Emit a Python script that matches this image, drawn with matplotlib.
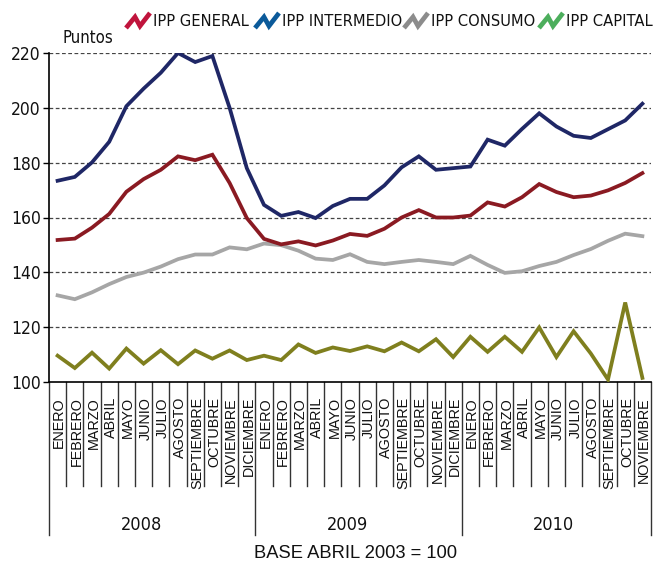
import matplotlib
matplotlib.use("Agg")
import matplotlib.pyplot as plt
from matplotlib.lines import Line2D
import matplotlib.transforms as mtransforms

# datos (ene 2008 - nov 2010)
meses = ["ENERO", "FEBRERO", "MARZO", "ABRIL", "MAYO", "JUNIO", "JULIO", "AGOSTO",
         "SEPTIEMBRE", "OCTUBRE", "NOVIEMBRE", "DICIEMBRE"]
anios = ["2008", "2009", "2010"]
n_meses = 35

ipp_general = [151.8, 152.3, 156.3, 161.3, 169.4, 174.0, 177.4, 182.3, 180.9, 182.9, 172.6, 159.8,
               152.2, 150.2, 151.3, 149.8, 151.6, 154.0, 153.3, 155.9, 160.0, 162.7, 160.0, 160.0,
               160.7, 165.5, 164.0, 167.4, 172.2, 169.3, 167.4, 168.0, 169.9, 172.6, 176.2]
ipp_intermedio = [173.4, 174.8, 180.1, 187.6, 200.6, 207.0, 212.8, 220.0, 216.7, 218.9, 200.0, 178.0,
                  164.6, 160.6, 162.0, 159.8, 164.2, 166.8, 166.8, 171.7, 178.3, 182.3, 177.4, 178.0,
                  178.6, 188.4, 186.2, 192.3, 198.0, 193.2, 189.8, 189.0, 192.2, 195.4, 201.5]
ipp_consumo = [131.6, 130.2, 132.7, 135.7, 138.3, 139.9, 142.1, 144.8, 146.5, 146.5, 149.1, 148.4,
               150.5, 149.9, 147.9, 145.0, 144.5, 146.6, 143.8, 143.0, 143.8, 144.5, 143.8, 143.0,
               146.0, 142.7, 139.8, 140.4, 142.3, 143.8, 146.3, 148.5, 151.5, 154.1, 153.2]
ipp_capital = [109.6, 105.1, 110.7, 104.9, 112.2, 106.7, 111.6, 106.5, 111.5, 108.5, 111.5, 108.0,
               109.6, 108.0, 113.7, 110.6, 112.6, 111.3, 113.0, 111.2, 114.4, 111.2, 115.6, 109.1,
               116.5, 111.0, 116.5, 111.0, 119.9, 109.1, 118.5, 110.4, 100.9, 129.0, 101.5]

series = [
    ("IPP GENERAL", ipp_general, "#8a1a22", "#c0143c"),
    ("IPP INTERMEDIO", ipp_intermedio, "#1f2766", "#0b5a9a"),
    ("IPP CONSUMO", ipp_consumo, "#a6a6a6", "#8c8c8c"),
    ("IPP CAPITAL", ipp_capital, "#7f7f1e", "#4cae5c"),
]

# fuente estrecha: DejaVu Sans Condensed
narrow = dict(family="DejaVu Sans", fontstretch="condensed")
normal = ["Liberation Sans", "DejaVu Sans"]

fig = plt.figure(figsize=(6.54, 5.63), dpi=100)
ax = fig.add_axes([49 / 654, 1 - 382 / 563, 602 / 654, 329 / 563])

x = list(range(n_meses))
for nombre, vals, color, _ in series[::-1]:
    ax.plot(x, vals, color=color, lw=2.7, solid_joinstyle="miter", zorder=3)

ax.set_xlim(-0.5, n_meses - 0.5)
ax.set_ylim(100, 220)
ax.set_yticks(range(100, 221, 20))
for v in range(120, 221, 20):
    ax.axhline(v, color="#444444", lw=0.9, ls=(0, (3, 2)), zorder=1)

for s in ["top", "right"]:
    ax.spines[s].set_visible(False)
ax.spines["left"].set_linewidth(1.2)
ax.spines["bottom"].set_linewidth(1.2)
ax.tick_params(axis="y", length=4, width=1, direction="out", pad=2)
ax.tick_params(axis="x", length=0, labelbottom=False)
for lab in ax.get_yticklabels():
    lab.set_family("DejaVu Sans")
    lab.set_fontstretch("condensed")
    lab.set_fontsize(12.5)
    lab.set_color("#111111")

# eje x: meses en cajas y años
trans = mtransforms.blended_transform_factory(ax.transData, ax.transAxes)
h = 329.0
for k in range(n_meses + 1):
    xb = k - 0.5
    if k % 12 == 0 or k == n_meses:
        y0 = -(535 - 382) / h
    else:
        y0 = -(486 - 382) / h
    ax.plot([xb, xb], [0, y0], transform=trans, color="#333333", lw=1.0, clip_on=False)

for i in range(n_meses):
    ax.text(i + 0.1, -(397 - 382) / h, meses[i % 12], transform=trans, rotation=90,
            ha="center", va="top", fontsize=10.4, family=normal, color="#111111")

for j, a in enumerate(anios):
    ax.text(12 * j + 4.85, -(525 - 382) / h, a, transform=trans, ha="center", va="center",
            fontsize=13, color="#111111", **narrow)

fig.text(356 / 654, 1 - 553 / 563, "BASE ABRIL 2003 = 100", ha="center", va="center",
         fontsize=13.2, family=normal, color="#111111")
fig.text(63 / 654, 1 - 38 / 563, "Puntos", ha="left", va="center",
         fontsize=12, color="#111111", **narrow)

# leyenda manual con iconos en zigzag
items_x = [125, 254, 403, 538]
for (nombre, _, _, icono), px in zip(series, items_x):
    xs = [px + 1, px + 10, px + 15, px + 25]
    ys = [28, 17, 26, 13]
    fig.add_artist(Line2D([v / 654 for v in xs], [1 - v / 563 for v in ys],
                          color=icono, lw=3.4, solid_joinstyle="miter",
                          solid_capstyle="butt"))
    fig.text((px + 28) / 654, 1 - 21 / 563, nombre, ha="left", va="center",
             fontsize=11.8, color="#111111", **narrow)

fig.savefig("out.png", dpi=100)
